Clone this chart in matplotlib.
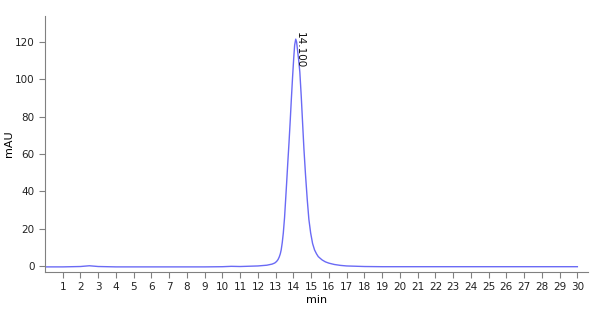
import matplotlib
matplotlib.use("Agg")
import matplotlib.pyplot as plt

# retention time (min) and absorbance (mAU)
t = [0, 1, 2, 2.5, 3, 4, 5, 6, 7, 8, 9, 10, 10.5, 11, 12, 12.5, 12.8, 12.95,
     13.05, 13.13, 13.2, 13.26, 13.31, 13.37, 13.43, 13.5, 13.56, 13.62,
     13.68, 13.75, 13.82, 13.88, 13.95, 14.02, 14.07, 14.13, 14.18, 14.24,
     14.30, 14.36, 14.44, 14.52, 14.59, 14.68, 14.78, 14.87, 14.97, 15.08,
     15.19, 15.3, 15.4, 15.52, 15.62, 15.8, 16.0, 16.3, 16.65, 17, 18, 19,
     20, 22, 24, 26, 28, 30]
mau = [-0.5, -0.5, -0.3, 0.1, -0.3, -0.5, -0.5, -0.5, -0.5, -0.5, -0.5, -0.4,
       -0.2, -0.3, 0.0, 0.4, 1.0, 1.6,
       2.4, 3.4, 4.8, 6.5, 8.6, 12.5, 17.7, 26.0, 35.4, 45.0,
       55.0, 66.0, 78.0, 89.0, 101.0, 112.0, 118.5, 121.6, 120.0, 115.0,
       110.0, 104.0, 91.0, 76.0, 63.0, 49.0, 35.4, 25.0, 17.7, 12.0,
       8.6, 6.5, 5.0, 4.0, 3.2, 2.2, 1.5, 0.8, 0.3, 0.0, -0.3, -0.4,
       -0.4, -0.4, -0.4, -0.4, -0.4, -0.4]
peak_t = 14.1
peak_v = 121.6
peak_label = "14.100"

fig = plt.figure(figsize=(6, 3.14), dpi=100)
ax = fig.add_axes([0.075, 0.134, 0.905, 0.815])
ax.plot(t, mau, color="#6a6af5", linewidth=1)

ax.text(peak_t, peak_v + 4, peak_label, rotation=-90,
        ha="left", va="top", fontsize=7.5, color="#111111")

ax.set_xlim(0, 30.6)
ax.set_ylim(-3.2, 134)
ax.set_xticks(range(1, 31))
ax.set_yticks(range(0, 121, 20))
ax.set_xlabel("min", fontsize=8, labelpad=2)
ax.set_ylabel("mAU", fontsize=8)
ax.yaxis.set_label_coords(-0.057, 0.5)

for side in ["top", "right"]:
    ax.spines[side].set_visible(False)
for side in ["left", "bottom"]:
    ax.spines[side].set_color("#808080")
ax.tick_params(axis="both", labelsize=7.5, colors="#222222", length=4,
               width=0.8, color="#808080")

fig.savefig("out.png", dpi=100)
